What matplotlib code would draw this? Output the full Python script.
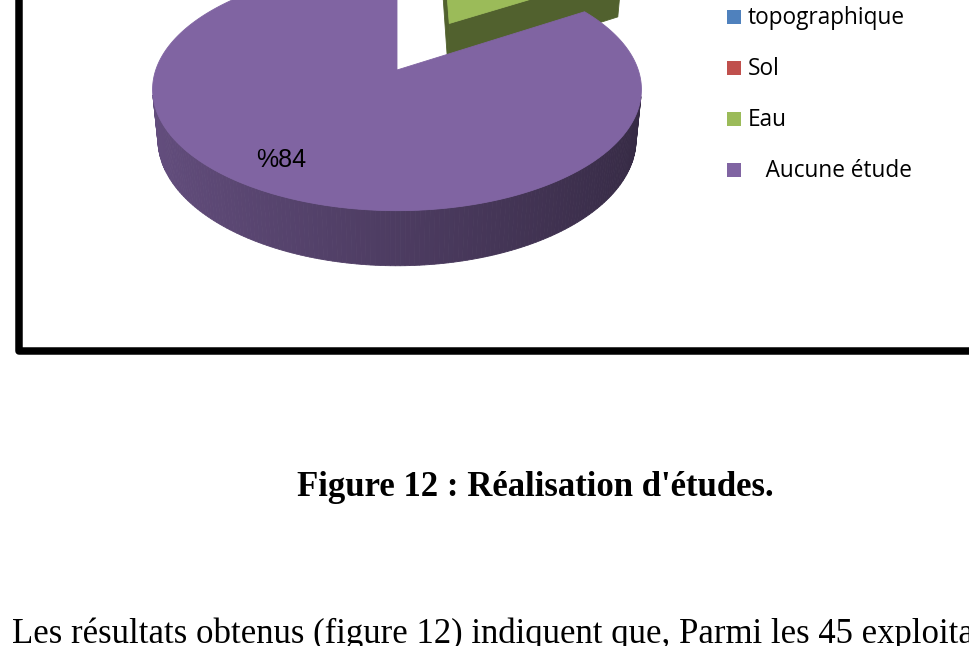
"""Figure 12 : Realisation d'etudes - 3D pie (cropped view)"""
import numpy as np
import matplotlib
matplotlib.use("Agg")
from matplotlib import pyplot as plt
from matplotlib.patches import Polygon, Rectangle

# data
labels = ['topographique', 'Sol', 'Eau', 'Aucune étude']
values = [0, 0, 16, 84]
colors = ['#4F81BD', '#C0504D', '#9BBB59', '#8064A2']
explode = [0, 0, 0.48, 0]
legend_text = ['topographique', 'Sol', 'Eau', '   Aucune étude']

caption = "Figure 12 : Réalisation d'études."
body = "Les résultats obtenus (figure 12) indiquent que, Parmi les 45 exploitations"

# 3D view settings (pixel space of the figure)
W, H = 969, 646
cx, cy = 397, 70          # projected centre of the top face
S = 1310.0                # projection scale
D = 5.43                  # camera distance (pie radius = 1)
elev = np.radians(29.3)
thick = 0.24
se, ce = np.sin(elev), np.cos(elev)
cam = np.array([0.0, -D * ce, D * se])


def project(X, Y, Z):
    X, Y, Z = np.asarray(X, float), np.asarray(Y, float), np.asarray(Z, float)
    depth = Y * ce - Z * se + D
    return cx + S * X / depth, cy - S * (Y * se + Z * ce) / depth


def shade(hexcol, f):
    rgb = np.array(matplotlib.colors.to_rgb(hexcol))
    return tuple(np.clip(rgb * f, 0, 1))


fig = plt.figure(figsize=(W / 100, H / 100), dpi=100)
ax = fig.add_axes([0, 0, 1, 1])
ax.set_xlim(0, W)
ax.set_ylim(H, 0)
ax.axis('off')

# slice angles: Excel starts at 12 o'clock, goes clockwise
total = float(sum(values))
slices = []
start = 90.0
for lab, v, col, ex in zip(labels, values, colors, explode):
    sweep = v / total * 360.0
    t1 = start
    t2 = start - sweep
    start = t2
    if v == 0:
        continue
    mid = np.radians((t1 + t2) / 2)
    ox, oy = ex * np.cos(mid), ex * np.sin(mid)
    slices.append(dict(label=lab, value=v, color=col, t1=t1, t2=t2, ox=ox, oy=oy, mid=mid))

# far slices first
slices.sort(key=lambda s: -s['oy'])

for s in slices:
    th = np.radians(np.linspace(s['t2'], s['t1'], int(abs(s['t1'] - s['t2'])) + 2))
    ox, oy = s['ox'], s['oy']

    # rim wall strips
    for a, b in zip(th[:-1], th[1:]):
        m = (a + b) / 2
        p = np.array([ox + np.cos(m), oy + np.sin(m), -thick / 2])
        if np.dot([np.cos(m), np.sin(m), 0], cam - p) <= 0:
            continue
        xs = ox + np.cos([a, b, b, a])
        ys = oy + np.sin([a, b, b, a])
        zs = [0, 0, -thick, -thick]
        px, py = project(xs, ys, zs)
        c = shade(s['color'], 0.6 - 0.18 * np.cos(m))
        ax.add_patch(Polygon(np.column_stack([px, py]), closed=True,
                             facecolor=c, edgecolor=c, linewidth=0.6))

    # radial faces
    for ang, nrm in ((th[-1], th[-1] + np.pi / 2), (th[0], th[0] - np.pi / 2)):
        p = np.array([ox + 0.5 * np.cos(ang), oy + 0.5 * np.sin(ang), -thick / 2])
        if np.dot([np.cos(nrm), np.sin(nrm), 0], cam - p) <= 1e-6:
            continue
        xs = [ox, ox + np.cos(ang), ox + np.cos(ang), ox]
        ys = [oy, oy + np.sin(ang), oy + np.sin(ang), oy]
        zs = [0, 0, -thick, -thick]
        px, py = project(xs, ys, zs)
        c = shade(s['color'], 0.52)
        ax.add_patch(Polygon(np.column_stack([px, py]), closed=True,
                             facecolor=c, edgecolor=c, linewidth=0.6))

    # top face
    xs = np.concatenate([[ox], ox + np.cos(th)])
    ys = np.concatenate([[oy], oy + np.sin(th)])
    px, py = project(xs, ys, np.zeros_like(xs))
    ax.add_patch(Polygon(np.column_stack([px, py]), closed=True,
                         facecolor=s['color'], edgecolor=s['color'], linewidth=0.6))

# data label of the big slice
for s in slices:
    if s['value'] < 50:
        continue
    lx, ly = project(s['ox'] + 0.8 * np.cos(s['mid'] - 0.06),
                     s['oy'] + 0.8 * np.sin(s['mid'] - 0.06), 0)
    ax.text(lx, ly, '%' + str(s['value']), fontsize=18, family='Liberation Sans',
            ha='center', va='center', color='black')

# legend
for i, (txt, col) in enumerate(zip(legend_text, colors)):
    y = 17 + 51 * i
    ax.add_patch(Rectangle((727, y - 7), 14, 14, facecolor=col, edgecolor='none'))
    ax.text(748, y + 1, txt, fontsize=16.3, family='Open Sans', ha='left', va='center')

# chart frame (left and bottom borders visible in this crop)
ax.plot([19, 19, W + 10], [-10, 351, 351], color='black', linewidth=5.4,
        solid_joinstyle='round', solid_capstyle='round')

# caption and body text
ax.text(535, 496, caption, fontsize=25, family='Liberation Serif', weight='bold',
        ha='center', va='baseline')
ax.text(12, 643, body, fontsize=25, family='Liberation Serif', ha='left', va='baseline')

plt.savefig('out.png', dpi=100)
